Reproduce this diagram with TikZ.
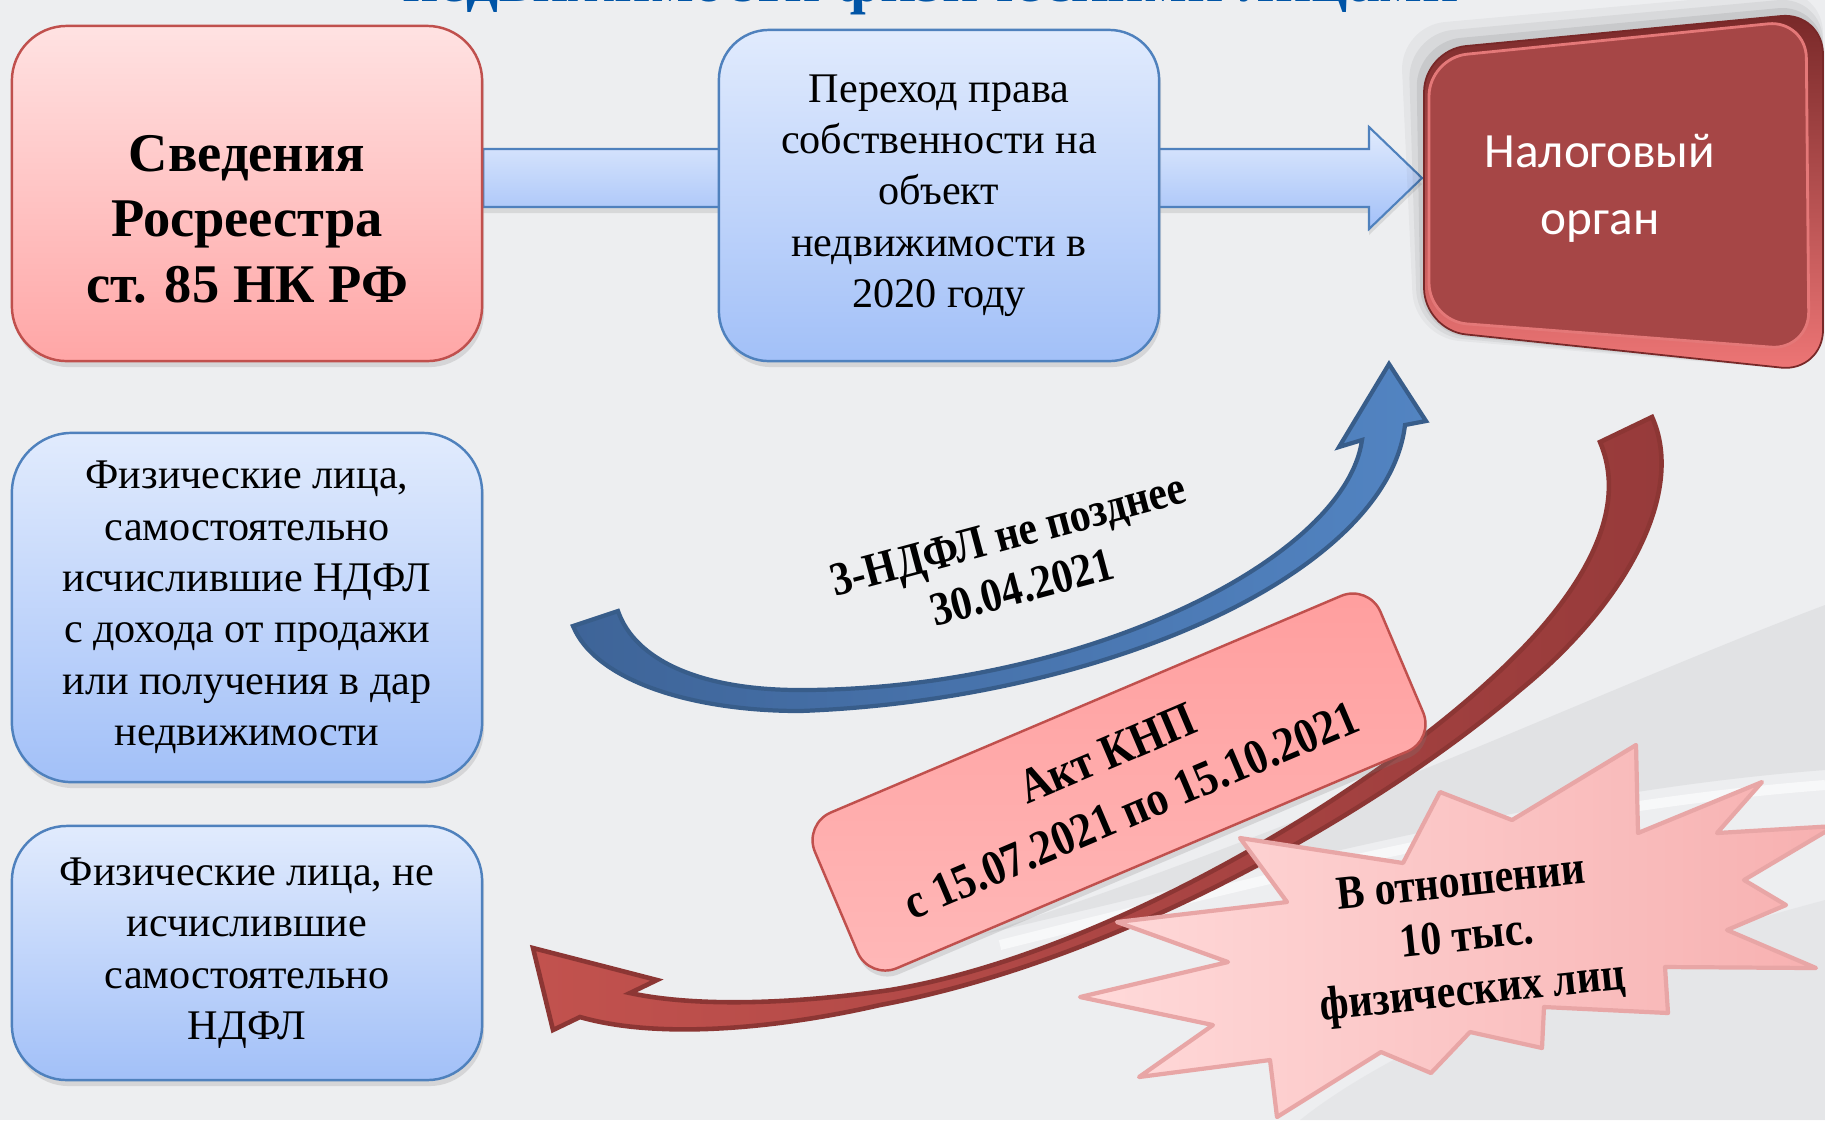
\documentclass[tikz,border=0pt]{standalone}
\usepackage{fontspec}
\setmainfont{Liberation Serif}
\newfontfamily\calibrifont{Carlito}
\newfontfamily\narrowfont[FakeStretch=0.88]{Liberation Serif}
\usetikzlibrary{calc,shadows}

\definecolor{bgray}{RGB}{237,238,240}
\definecolor{swooshgray}{RGB}{225,226,228}
\definecolor{pinktop}{RGB}{255,226,226}
\definecolor{pinkbot}{RGB}{255,166,166}
\definecolor{redline}{RGB}{192,80,77}
\definecolor{bluetop}{RGB}{225,235,253}
\definecolor{bluebot}{RGB}{162,192,248}
\definecolor{blueline}{RGB}{79,129,189}
\definecolor{arrowblue}{RGB}{82,132,194}
\definecolor{arrowbluedk}{RGB}{62,100,152}
\definecolor{arrowblueln}{RGB}{56,93,138}
\definecolor{arrowred}{RGB}{194,82,78}
\definecolor{arrowreddk}{RGB}{150,58,58}
\definecolor{arrowredln}{RGB}{140,54,52}
\definecolor{akttop}{RGB}{255,158,158}
\definecolor{aktbot}{RGB}{255,184,184}
\definecolor{nalogface}{RGB}{166,70,70}
\definecolor{nalogrimtop}{RGB}{120,40,40}
\definecolor{nalogrimbot}{RGB}{238,118,118}
\definecolor{nalogedge}{RGB}{228,120,120}
\definecolor{starleft}{RGB}{255,218,218}
\definecolor{starright}{RGB}{247,176,176}
\definecolor{starline}{RGB}{232,166,166}
\definecolor{titleblue}{RGB}{0,84,166}

\pgfdeclarelayer{bg}
\pgfdeclarelayer{band}
\pgfsetlayers{bg,band,main}

\tikzset{
  boxshadow/.style={drop shadow={opacity=0.22, shadow xshift=0.02cm, shadow yshift=-0.06cm}},
  redbox/.style={rectangle, rounded corners=0.55cm, draw=redline, line width=0.7pt,
    top color=pinktop, bottom color=pinkbot, boxshadow},
  bluebox/.style={rectangle, rounded corners=0.55cm, draw=blueline, line width=0.7pt,
    top color=bluetop, bottom color=bluebot, boxshadow, align=center,
    font=\fontsize{12}{14.6}\selectfont},
  boldtext/.style={align=center, font=\fontsize{15.5}{18.6}\selectfont\bfseries},
  arrowlabel/.style={align=center, font=\narrowfont\fontsize{13.5}{15.5}\selectfont\bfseries},
  aktbox/.style={rectangle, rounded corners=0.3cm, draw=redline, line width=0.7pt,
    top color=akttop, bottom color=aktbot, boxshadow, align=center,
    font=\narrowfont\fontsize{14}{17.5}\selectfont\bfseries},
  bandarrow/.style={draw=blueline, line width=0.6pt, top color=bluetop, bottom color=bluebot,
    drop shadow={opacity=0.2, shadow xshift=0cm, shadow yshift=-0.06cm}},
  bluecurve/.style={draw=arrowblueln, line width=1.2pt, left color=arrowbluedk, right color=arrowblue},
  redcurve/.style={draw=arrowredln, line width=1.3pt, left color=arrowred, right color=arrowreddk},
  starshape/.style={draw=starline, line width=1.2pt, line join=round,
    left color=starleft, right color=starright},
  nalogtext/.style={align=center, text=white, font=\calibrifont\fontsize{14}{19}\selectfont}
}

\begin{document}
\begin{tikzpicture}[x=0.01cm, y=-0.01cm]
	\useasboundingbox (0,0) rectangle (1825,1120);
	\begin{pgfonlayer}{bg}
		\fill[bgray] (0,0) rectangle (1825,1120);
		% background swoosh
		\fill[swooshgray] (1825,605) .. controls (1600,690) and (1330,820) .. (980,935)
			.. controls (1300,860) and (1560,790) .. (1825,770) -- cycle;
		\draw[white, opacity=0.6, line width=0.1cm] (1825,785) .. controls (1560,805) and (1300,870) .. (1000,945);
		\fill[swooshgray, opacity=0.6] (1825,900) .. controls (1600,960) and (1400,1040) .. (1300,1120) -- (1825,1120) -- cycle;
	\end{pgfonlayer}

	% title, cut by the top edge
	\node[text=titleblue, anchor=base, font=\fontsize{18}{20}\selectfont\bfseries] (title) at (931,1) {недвижимости физическими лицами};

	% left column and top row
	\node[redbox, minimum width=4.70cm, minimum height=3.35cm] (sved) at (247,193.5) {};
	\node[boldtext] (svedtxt) at (247,219) {Сведения\\Росреестра\\ст. 85 НК РФ};

	\node[bluebox, rounded corners=0.5cm, minimum width=4.40cm, minimum height=3.31cm] (perehod) at (939,195.5) {Переход права\\собственности на\\объект\\недвижимости в\\2020 году};

	\node[bluebox, rounded corners=0.6cm, minimum width=4.70cm, minimum height=3.49cm] (fizsam) at (247,607.5) {Физические лица,\\самостоятельно\\исчислившие НДФЛ\\с дохода от продажи\\или получения в дар\\недвижимости};

	\node[bluebox, minimum width=4.70cm, minimum height=2.54cm] (fizne) at (247,953) {Физические лица, не\\исчислившие\\самостоятельно\\НДФЛ};

	% Налоговый орган
	\foreach \s/\o in {24/0.035, 16/0.05, 8/0.07} {
		\fill[black, opacity=\o, rounded corners=0.45cm] (1424-\s,50-\s) -- (1823,12-\s) -- (1823,372) -- (1424-\s*0.4,330+\s*0.3) -- cycle;
	}
	\draw[draw=nalogrimtop, line width=0.5pt, top color=nalogrimtop, bottom color=nalogrimbot, rounded corners=0.42cm] (1424,50) -- (1823,12) -- (1823,372) -- (1424,330) -- cycle;
	\draw[draw=nalogedge, line width=0.8pt, fill=nalogface, rounded corners=0.38cm] (1429,58) -- (1806,20) -- (1809,350) -- (1429,321) -- cycle;
	\node[nalogtext] (nalog) at (1600,188) {Налоговый\\орган};

	% wide arrow from Росреестр to the tax office, behind the middle box
	\coordinate (arrowL) at (sved.east |- 0,178);
	\coordinate (nalogW) at (1422,178);
	\begin{pgfonlayer}{band}
		\path[bandarrow] ($(arrowL)+(0,-29)$) -- ($(nalogW)+(-53,-29)$) -- ($(nalogW)+(-53,-51)$) -- (nalogW)
			-- ($(nalogW)+(-53,51)$) -- ($(nalogW)+(-53,29)$) -- ($(arrowL)+(0,29)$) -- cycle;
	\end{pgfonlayer}

	% blue curved arrow (3-НДФЛ)
	\path[bluecurve] (573,626) .. controls (595,680) and (690,711) .. (800,711)
		.. controls (1100,700) and (1387,575) .. (1405,425)
		-- (1426,421) -- (1389,364) -- (1339,447) -- (1362,440)
		.. controls (1345,560) and (1080,690) .. (800,690)
		.. controls (700,690) and (635,660) .. (618,611) -- cycle;
	\node[arrowlabel, rotate=15] (ndfl) at (1015,561) {3-НДФЛ не позднее\\30.04.2021};

	% red curved arrow (акт КНП)
	\path[redcurve] (1652,417) .. controls (1685,490) and (1630,600) .. (1520,690)
		.. controls (1380,810) and (1120,960) .. (880,1005)
		.. controls (780,1028) and (660,1040) .. (580,1017)
		-- (553,1030) -- (533,948) -- (657,980) -- (630,993)
		.. controls (700,1008) and (800,1003) .. (890,990)
		.. controls (1100,955) and (1360,800) .. (1490,680)
		.. controls (1600,580) and (1625,500) .. (1600,442) -- cycle;

	\node[aktbox, rotate=23, minimum width=6.14cm, minimum height=1.69cm] (akt) at (1119,782) {Акт КНП\\с 15.07.2021 по 15.10.2021};

	% explosion
	\draw[starshape] (1240,838) -- (1403,863) -- (1440,792) -- (1512,820) -- (1636,745) -- (1638,833)
		-- (1762,782) -- (1717,833) -- (1835,826) -- (1744,880) -- (1786,905) -- (1727,930)
		-- (1816,968) -- (1665,967) -- (1668,1013) -- (1544,1007) -- (1542,1048) -- (1470,1032)
		-- (1431,1073) -- (1381,1052) -- (1277,1117) -- (1270,1060) -- (1139,1077) -- (1213,1025)
		-- (1080,997) -- (1228,962) -- (1117,922) -- (1287,902) -- cycle;
	\node[arrowlabel, rotate=6] (vzozn) at (1467,940) {В отношении\\10 тыс.\\физических лиц};

\end{tikzpicture}
\end{document}
